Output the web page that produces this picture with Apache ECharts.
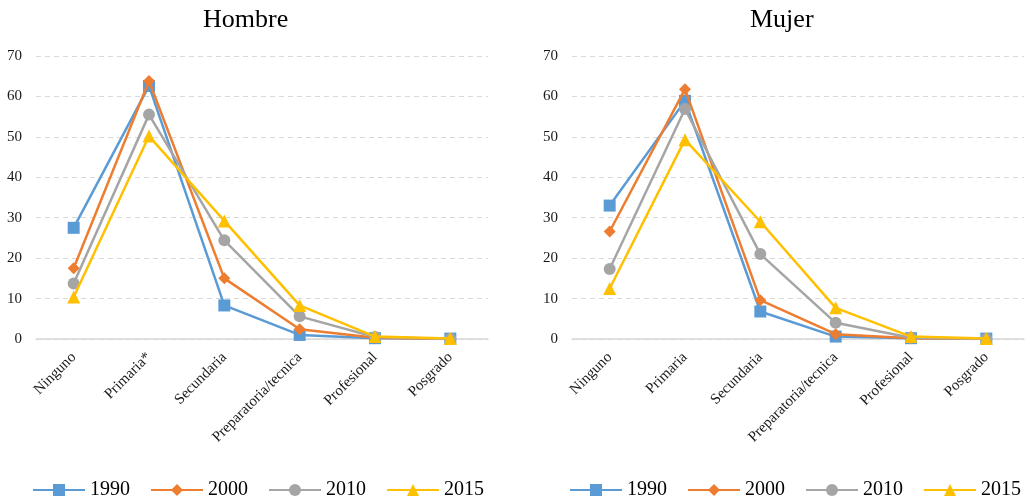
<!DOCTYPE html>
<html><head><meta charset="utf-8">
<script src="https://cdn.jsdelivr.net/npm/echarts@6/dist/echarts.min.js"></script>
<style>html,body{margin:0;padding:0;background:#fff}#c{width:1030px;height:501px}</style>
</head><body><div id="c"></div>
<script>
const catsH = ['Ninguno','Primaria*','Secundaria','Preparatoria/tecnica','Profesional','Posgrado'];
const catsM = ['Ninguno','Primaria','Secundaria','Preparatoria/tecnica','Profesional','Posgrado'];
const years = ['1990','2000','2010','2015'];
const hombre1990 = [27.5, 62.6, 8.3, 1.0, 0.2, 0.1];
const hombre2000 = [17.5, 63.8, 15.0, 2.4, 0.3, 0.0];
const hombre2010 = [13.7, 55.5, 24.4, 5.6, 0.5, 0.0];
const hombre2015 = [10.4, 50.2, 29.2, 8.3, 0.6, 0.1];
const mujer1990 = [33.0, 58.9, 6.8, 0.6, 0.2, 0.1];
const mujer2000 = [26.6, 61.8, 9.6, 1.2, 0.2, 0.0];
const mujer2010 = [17.3, 56.9, 21.0, 4.0, 0.3, 0.0];
const mujer2015 = [12.5, 49.3, 29.0, 7.7, 0.6, 0.1];
const yTicks = {min:0, max:70, interval:10};

const colors = ['#5B9BD5','#ED7D31','#A5A5A5','#FFC000'];
const symbols = ['rect','diamond','circle','triangle'];
const symSizes = [12, 12, 12, 13];
const font = 'Liberation Serif, Times New Roman, serif';

function mkSeries(dataArr, gi){
  return dataArr.map((d,i)=>({
    name: years[i], type:'line', xAxisIndex:gi, yAxisIndex:gi, data:d,
    symbol: symbols[i], symbolSize: symSizes[i], showAllSymbol:true,
    lineStyle:{color:colors[i], width:2.5}, itemStyle:{color:colors[i]},
    emphasis:{disabled:true}, z: 2+i
  }));
}
function xAx(cats, gi){
  return {type:'category', gridIndex:gi, data:cats, boundaryGap:true,
    axisLine:{lineStyle:{color:'#D9D9D9', width:1.5}}, axisTick:{show:false},
    axisLabel:{rotate:45, interval:0, color:'#1a1a1a', fontFamily:font, fontSize:15, margin:16}};
}
function yAx(gi){
  return {type:'value', gridIndex:gi, min:yTicks.min, max:yTicks.max, interval:yTicks.interval,
    axisLine:{show:false}, axisTick:{show:false},
    axisLabel:{color:'#1a1a1a', fontFamily:font, fontSize:15, margin:14},
    splitLine:{lineStyle:{color:'#D9D9D9', type:[5,4], width:1}}};
}
function legend(left){
  return {data:years, bottom:-4, left:left, itemWidth:52, itemHeight:15, itemGap:20,
    textStyle:{fontFamily:font, fontSize:20, color:'#000'}};
}
const chart = echarts.init(document.getElementById('c'));
chart.setOption({
  animation:false,
  title:[
    {text:'Hombre', left:198, top:2, textStyle:{fontFamily:font, fontSize:26, fontWeight:'normal', color:'#000'}},
    {text:'Mujer', left:745, top:2, textStyle:{fontFamily:font, fontSize:26, fontWeight:'normal', color:'#000'}}
  ],
  legend:[legend(27), legend(564)],
  grid:[
    {left:36, right:542, top:56, bottom:162},
    {left:572, right:6, top:56, bottom:162}
  ],
  xAxis:[xAx(catsH,0), xAx(catsM,1)],
  yAxis:[yAx(0), yAx(1)],
  series:[
    ...mkSeries([hombre1990,hombre2000,hombre2010,hombre2015],0),
    ...mkSeries([mujer1990,mujer2000,mujer2010,mujer2015],1)
  ]
});
</script></body></html>
